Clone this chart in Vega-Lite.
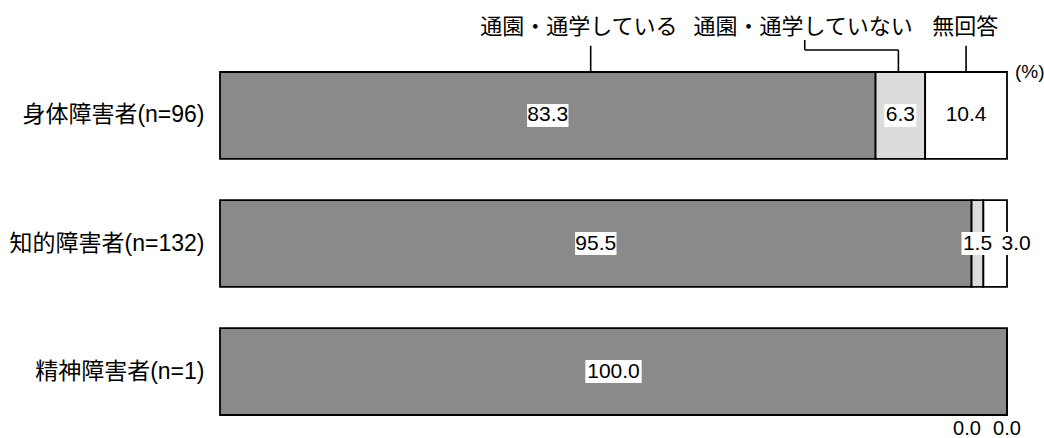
{
  "$schema": "https://vega.github.io/schema/vega-lite/v6.json",
  "padding": {"left": 9, "top": 0, "right": 0, "bottom": 0},
  "background": "white",
  "spacing": 0,
  "bounds": "flush",
  "config": {
    "view": {"stroke": null},
    "font": "Liberation Sans, Noto Sans CJK JP, sans-serif"
  },
  "vconcat": [
    {
      "width": 787,
      "height": 72,
      "layer": [
        {
          "data": {"values": [
            {"x": 47.1, "y": 0, "y2": 1.05},
            {"x": 86.2, "y": 0, "y2": 0.88},
            {"x": 74.3, "y": 0.88, "y2": 1.28},
            {"x": 94.8, "y": 0, "y2": 1.05}
          ]},
          "mark": {"type": "rule", "color": "black", "strokeWidth": 1.6},
          "encoding": {
            "x": {"field": "x", "type": "quantitative", "scale": {"domain": [0, 100], "nice": false}, "axis": null},
            "y": {"field": "y", "type": "quantitative", "scale": {"domain": [0, 2.88], "nice": false, "zero": false}, "axis": null},
            "y2": {"field": "y2"}
          }
        },
        {
          "data": {"values": [{"x": 74.3, "x2": 86.2, "y": 0.88}]},
          "mark": {"type": "rule", "color": "black", "strokeWidth": 1.6},
          "encoding": {
            "x": {"field": "x", "type": "quantitative"},
            "x2": {"field": "x2"},
            "y": {"field": "y", "type": "quantitative"}
          }
        },
        {
          "data": {"values": [
            {"label": "通園・通学している", "x": 45.6, "level": 1.8},
            {"label": "通園・通学していない", "x": 74.1, "level": 1.8},
            {"label": "無回答", "x": 94.7, "level": 1.8}
          ]},
          "mark": {"type": "text", "fontSize": 22, "color": "black", "baseline": "middle", "align": "center"},
          "encoding": {
            "x": {"field": "x", "type": "quantitative"},
            "y": {"field": "level", "type": "quantitative"},
            "text": {"field": "label", "type": "nominal"}
          }
        },
        {
          "data": {"values": [{"label": "(%)", "x": 102.9, "level": 0}]},
          "mark": {"type": "text", "fontSize": 19, "color": "black", "baseline": "middle", "align": "center"},
          "encoding": {
            "x": {"field": "x", "type": "quantitative"},
            "y": {"field": "level", "type": "quantitative"},
            "text": {"field": "label", "type": "nominal"}
          }
        }
      ]
    },
    {
      "width": 787,
      "height": 343,
      "data": {
        "values": [
          {"row": "身体障害者(n=96)", "cat": "通園・通学している", "k": 1, "value": 83.3},
          {"row": "身体障害者(n=96)", "cat": "通園・通学していない", "k": 2, "value": 6.3},
          {"row": "身体障害者(n=96)", "cat": "無回答", "k": 3, "value": 10.4},
          {"row": "知的障害者(n=132)", "cat": "通園・通学している", "k": 1, "value": 95.5},
          {"row": "知的障害者(n=132)", "cat": "通園・通学していない", "k": 2, "value": 1.5},
          {"row": "知的障害者(n=132)", "cat": "無回答", "k": 3, "value": 3.0},
          {"row": "精神障害者(n=1)", "cat": "通園・通学している", "k": 1, "value": 100.0},
          {"row": "精神障害者(n=1)", "cat": "通園・通学していない", "k": 2, "value": 0.0},
          {"row": "精神障害者(n=1)", "cat": "無回答", "k": 3, "value": 0.0}
        ]
      },
      "transform": [
        {"stack": "value", "groupby": ["row"], "sort": [{"field": "k", "order": "ascending"}], "as": ["v0", "v1"]}
      ],
      "encoding": {
        "y": {
          "field": "row", "type": "nominal", "sort": null,
          "scale": {"paddingInner": 0.322, "paddingOuter": 0},
          "axis": {"title": null, "ticks": false, "domain": false, "labelFontSize": 23, "labelPadding": 16, "labelLimit": 400, "labelColor": "black"}
        }
      },
      "layer": [
        {
          "mark": {"type": "bar", "stroke": "black", "strokeWidth": 1.8},
          "encoding": {
            "x": {"field": "v0", "type": "quantitative", "scale": {"domain": [0, 100], "nice": false}, "axis": null},
            "x2": {"field": "v1"},
            "fill": {
              "field": "cat", "type": "nominal",
              "scale": {"domain": ["通園・通学している", "通園・通学していない", "無回答"], "range": ["#8a8a8a", "#dcdcdc", "#ffffff"]},
              "legend": null
            }
          }
        },
        {
          "transform": [
            {"fold": ["v0", "v1"], "as": ["edge", "pos"]},
            {"aggregate": [{"op": "mean", "field": "pos", "as": "mid"}], "groupby": ["row", "cat", "k", "value"]}
          ],
          "encoding": {
            "x": {"field": "mid", "type": "quantitative"}
          },
          "layer": [
            {
              "transform": [{"filter": "datum.value > 0 && datum.value < 10 && datum.cat != '無回答'"}],
              "mark": {"type": "point", "filled": true, "fill": "white", "opacity": 1, "size": 529, "strokeWidth": 0, "shape": "M-1.39,-1H1.39V1H-1.39Z"}
            },
            {
              "transform": [{"filter": "datum.value >= 10 && datum.value < 100"}],
              "mark": {"type": "point", "filled": true, "fill": "white", "opacity": 1, "size": 529, "strokeWidth": 0, "shape": "M-1.8,-1H1.8V1H-1.8Z"}
            },
            {
              "transform": [{"filter": "datum.value >= 100"}],
              "mark": {"type": "point", "filled": true, "fill": "white", "opacity": 1, "size": 529, "strokeWidth": 0, "shape": "M-2.45,-1H2.45V1H-2.45Z"}
            },
            {
              "transform": [{"filter": "datum.cat == '無回答' && datum.value > 0 && datum.value < 5"}],
              "mark": {"type": "point", "filled": true, "fill": "white", "opacity": 1, "size": 529, "strokeWidth": 0, "shape": "M0.43,-1H3.3V1H0.43Z"}
            },
            {
              "transform": [{"filter": "datum.value > 0 && !(datum.cat == '無回答' && datum.value < 5)"}],
              "mark": {"type": "text", "fontSize": 21, "color": "black", "baseline": "middle", "align": "center"},
              "encoding": {"text": {"field": "value", "type": "quantitative", "format": ".1f"}}
            },
            {
              "transform": [{"filter": "datum.cat == '無回答' && datum.value > 0 && datum.value < 5"}],
              "mark": {"type": "text", "fontSize": 21, "color": "black", "baseline": "middle", "align": "center", "dx": 21},
              "encoding": {"text": {"field": "value", "type": "quantitative", "format": ".1f"}}
            },
            {
              "transform": [{"filter": "datum.value == 0 && datum.cat == '通園・通学していない'"}],
              "mark": {"type": "text", "fontSize": 20, "color": "black", "baseline": "middle", "align": "center", "dx": -40, "dy": 57},
              "encoding": {"text": {"field": "value", "type": "quantitative", "format": ".1f"}}
            },
            {
              "transform": [{"filter": "datum.value == 0 && datum.cat == '無回答'"}],
              "mark": {"type": "text", "fontSize": 20, "color": "black", "baseline": "middle", "align": "center", "dy": 57},
              "encoding": {"text": {"field": "value", "type": "quantitative", "format": ".1f"}}
            }
          ]
        }
      ]
    }
  ]
}
